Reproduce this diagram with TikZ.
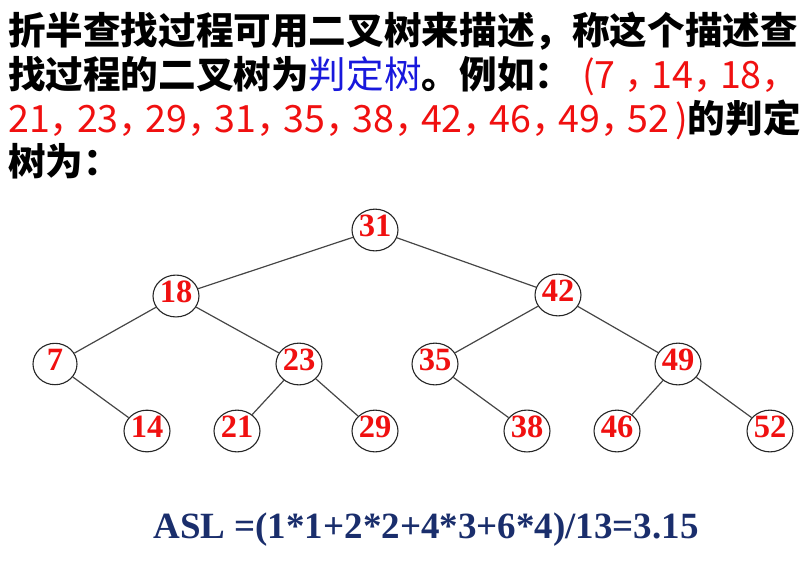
\documentclass[tikz,border=0pt]{standalone}
\usepackage{fontspec}
\usepackage{tikz}
\usetikzlibrary{shapes.geometric}
\newfontfamily\cjk{Noto Sans CJK SC}
\newfontfamily\tnr{Liberation Serif}
\definecolor{hong}{RGB}{240,16,16}
\definecolor{lan}{RGB}{24,24,220}
\definecolor{shen}{RGB}{26,46,108}
\definecolor{bian}{RGB}{70,70,70}
\newcommand\dou{\makebox[0.72em][l]{，}}

\begin{document}
\begin{tikzpicture}[x=1pt,y=-1pt]
  \tikzstyle{txt}=[anchor=base west,inner sep=0pt,font=\cjk\bfseries\fontsize{37.6}{44}\selectfont]
  \tikzstyle{v}=[ellipse,draw=black!85,line width=1.1pt,fill=white,inner sep=0pt,
                 minimum width=44pt,minimum height=41pt,text depth=8pt,
                 text=hong,font=\tnr\bfseries\fontsize{32.5}{32}\selectfont]
  \tikzstyle{e}=[draw=bian,line width=1.2pt]
  \useasboundingbox (0,0) rectangle (808,566);
  % Texte
  \node[txt] (l1) at (8,44) {折半查找过程可用二叉树来描述，称这个描述查};
  \node[txt] (l2) at (8,88) {找过程的二叉树为{\mdseries\color{lan}判定树}。例如：\hspace{10pt}{\mdseries\color{hong}(7 \dou 14\dou 18\dou}};
  \node[txt] (l3) at (8,132) {{\mdseries\color{hong}21\dou 23\dou 29\dou 31\dou 35\dou 38\dou 42\dou 46\dou 49\dou 52\hspace{6pt})}的判定};
  \node[txt] (l4) at (8,175) {树为：};
  % Sommets (arbre de decision)
  \node[v] (n31) at (375,230) {31};
  \node[v] (n18) at (176,296) {18};
  \node[v] (n42) at (558,295) {42};
  \node[v] (n7)  at (55,364)  {7};
  \node[v] (n23) at (299,364) {23};
  \node[v] (n35) at (435,364) {35};
  \node[v] (n49) at (678,364) {49};
  \node[v] (n14) at (147,431) {14};
  \node[v] (n21) at (237,431) {21};
  \node[v] (n29) at (375,431) {29};
  \node[v] (n38) at (527,431) {38};
  \node[v] (n46) at (617,431) {46};
  \node[v] (n52) at (770,431) {52};
  % Aretes
  \draw[e] (n31)--(n18); \draw[e] (n31)--(n42);
  \draw[e] (n18)--(n7);  \draw[e] (n18)--(n23);
  \draw[e] (n42)--(n35); \draw[e] (n42)--(n49);
  \draw[e] (n7)--(n14);
  \draw[e] (n23)--(n21); \draw[e] (n23)--(n29);
  \draw[e] (n35)--(n38);
  \draw[e] (n49)--(n46); \draw[e] (n49)--(n52);
  % ASL
  \node[text=shen,font=\tnr\bfseries\fontsize{37}{40}\selectfont] (asl) at (426,530) {ASL =(1*1+2*2+4*3+6*4)/13=3.15};
\end{tikzpicture}
\end{document}
